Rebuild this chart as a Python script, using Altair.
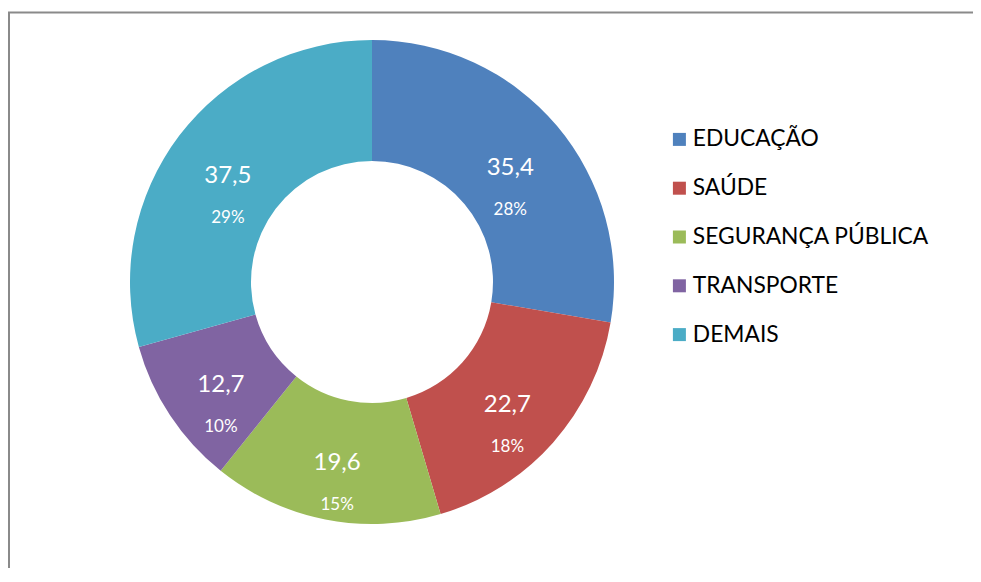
import altair as alt
import pandas as pd

categories = ["EDUCAÇÃO", "SAÚDE", "SEGURANÇA PÚBLICA", "TRANSPORTE", "DEMAIS"]
values = [35.4, 22.7, 19.6, 12.7, 37.5]
value_labels = ["35,4", "22,7", "19,6", "12,7", "37,5"]
percent_labels = ["28%", "18%", "15%", "10%", "29%"]
colors = ["#4F81BD", "#C0504D", "#9BBB59", "#8064A2", "#4BACC6"]

df = pd.DataFrame({
    "cat": categories,
    "value": values,
    "vlabel": value_labels,
    "plabel": percent_labels,
    "order": list(range(len(categories))),
})

W, H = 965, 560
CX, CY = 364, 274
FONT = "Lato"

color = alt.Color(
    "cat:N",
    sort=categories,
    scale=alt.Scale(domain=categories, range=colors),
    legend=alt.Legend(
        orient="none", legendX=660, legendY=120, title=None,
        symbolType="square", symbolSize=169, symbolStrokeWidth=0, symbolOpacity=1,
        labelFont=FONT, labelFontSize=22.8, labelColor="black", labelLimit=500,
        rowPadding=24.8, labelOffset=2, padding=0,
    ),
)

base = alt.Chart(df).encode(
    theta=alt.Theta("value:Q", stack=True),
    order=alt.Order("order:Q"),
)

arcs = base.mark_arc(outerRadius=242, innerRadius=121).encode(
    color=color, x=alt.value(CX), y=alt.value(CY)
)
vtext = base.mark_text(radius=181, dy=3, fontSize=24, font=FONT, color="white").encode(
    text="vlabel:N", x=alt.value(CX), y=alt.value(CY)
)
ptext = base.mark_text(radius=181, dy=45, fontSize=17, font=FONT, color="white").encode(
    text="plabel:N", x=alt.value(CX), y=alt.value(CY)
)

frame_df = pd.DataFrame({"a": [0]})
top_line = alt.Chart(frame_df).mark_rule(color="#8a8a8a", strokeWidth=2).encode(
    x=alt.value(0), x2=alt.value(W), y=alt.value(4.5)
)
left_line = alt.Chart(frame_df).mark_rule(color="#8a8a8a", strokeWidth=2).encode(
    x=alt.value(1), y=alt.value(4.5), y2=alt.value(H)
)

chart = alt.layer(top_line, left_line, arcs, vtext, ptext).properties(
    width=W, height=H, autosize=alt.AutoSizeParams(type="none"), padding=0
).configure_view(stroke=None)

chart.save("out.html", embed_options={"renderer": "svg", "actions": False})
